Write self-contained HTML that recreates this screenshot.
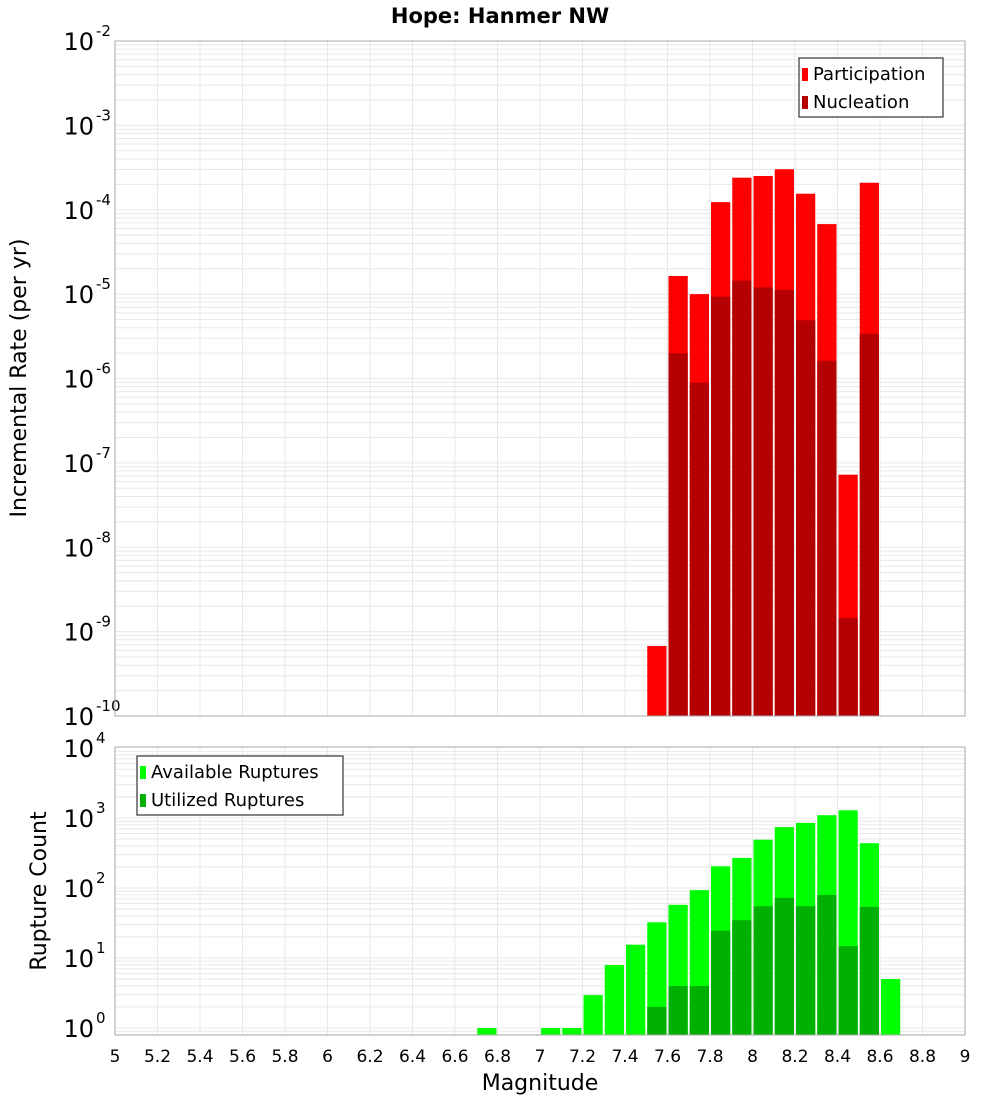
<!DOCTYPE html>
<html><head><meta charset="utf-8"><style>
body{margin:0;background:#fff;}
svg{display:block;font-family:"DejaVu Sans","Liberation Sans",sans-serif;}
</style></head><body>
<svg id="c" width="1000" height="1100" xmlns="http://www.w3.org/2000/svg">
<text x="500" y="23" text-anchor="middle" font-size="21" font-weight="bold">Hope: Hanmer NW</text>
<g id="top"></g>
<g id="bot"></g>
</svg>
<script>
const mags=[6.75,7.05,7.15,7.25,7.35,7.45,7.55,7.65,7.75,7.85,7.95,8.05,8.15,8.25,8.35,8.45,8.55,8.65];
const partMags=[7.55,7.65,7.75,7.85,7.95,8.05,8.15,8.25,8.35,8.45,8.55];
const participationLog=[-9.17,-4.785,-5.0,-3.91,-3.62,-3.6,-3.52,-3.81,-4.17,-7.14,-3.68];
const nuclMags=[7.65,7.75,7.85,7.95,8.05,8.15,8.25,8.35,8.45,8.55];
const nucleationLog=[-5.70,-6.05,-5.03,-4.84,-4.92,-4.95,-5.31,-5.79,-8.84,-5.47];
const availableLog=[0,0,0,0.47,0.9,1.19,1.51,1.76,1.97,2.31,2.43,2.69,2.87,2.93,3.04,3.11,2.64,0.70];
const utilMags=[7.55,7.65,7.75,7.85,7.95,8.05,8.15,8.25,8.35,8.45,8.55];
const utilizedLog=[0.30,0.6,0.6,1.39,1.54,1.74,1.86,1.74,1.9,1.17,1.73];
const xTicks=[5,5.2,5.4,5.6,5.8,6,6.2,6.4,6.6,6.8,7,7.2,7.4,7.6,7.8,8,8.2,8.4,8.6,8.8,9];
const topDecades=[-2,-3,-4,-5,-6,-7,-8,-9,-10];
const botDecades=[4,3,2,1,0];

const NS="http://www.w3.org/2000/svg";
const X0=115,X1=965;
const xs=m=>X0+(m-5)/4*(X1-X0);
function el(p,t,a){const e=document.createElementNS(NS,t);for(const k in a)e.setAttribute(k,a[k]);p.appendChild(e);return e;}

function panel(g,top,bottom,ys,yMinLog,yMaxLog,decades,name){
  // grid
  for(let d=Math.floor(yMinLog);d<yMaxLog;d++){
    for(let k=1;k<10;k++){
      const v=d+Math.log10(k);
      if(v<yMinLog||v>yMaxLog)continue;
      const l=el(g,'line',{x1:X0,x2:X1,y1:ys(v),y2:ys(v),stroke:'#e8e8e8','stroke-width':1});
      
      
    }
  }
  xTicks.forEach(t=>{
    const l=el(g,'line',{x1:xs(t),x2:xs(t),y1:top,y2:bottom,stroke:'#e8e8e8','stroke-width':1});
    
    
  });
  decades.forEach(d=>{
    const t=el(g,'text',{x:94,y:ys(d)+9,'text-anchor':'end','font-size':24});
    
    
    t.textContent='10';
    const s=el(g,'text',{x:96,y:ys(d)-5,'font-size':15});
    
    
    s.textContent=String(d);
  });
}
function bars(g,list,vals,ys,bottom,fill,name){
  list.forEach((m,i)=>{
    const x=xs(m-0.05)+1,w=xs(m+0.05)-xs(m-0.05)-2,y=ys(vals[i]);
    const r=el(g,'rect',{x:x,y:y,width:w,height:bottom-y,fill:fill});
    
    
  });
}
function frame(g,top,bottom,name){
  const r=el(g,'rect',{x:X0,y:top,width:X1-X0,height:bottom-top,fill:'none',stroke:'#aaa','stroke-width':1});
  
  
}
function legend(g,x,y,w,items,name){
  const b=el(g,'rect',{x:x,y:y,width:w,height:59,fill:'#fff',stroke:'#333','stroke-width':1.2});
  
  
  items.forEach((it,i)=>{
    const sw=el(g,'rect',{x:x+3,y:y+10+i*28,width:6,height:13,fill:it[1]});
    
    
    const t=el(g,'text',{x:x+14,y:y+22+i*28,'font-size':18});
    
    
    t.textContent=it[0];
  });
}

// top panel
const T=document.getElementById('top');
const tTop=41,tBot=716;
const yT=v=>tTop+(-2-v)*(tBot-tTop)/8;
panel(T,tTop,tBot,yT,-10,-2,topDecades,'rate');
bars(T,partMags,participationLog,yT,tBot,'#ff0000','participation-bar');
bars(T,nuclMags,nucleationLog,yT,tBot,'#b40000','nucleation-bar');
frame(T,tTop,tBot,'rate');
legend(T,799,58,144,[['Participation','#ff0000'],['Nucleation','#b40000']],'rate-legend');
const yt=el(T,'text',{x:0,y:0,'font-size':22,'text-anchor':'middle',transform:'translate(26,378) rotate(-90)'});


yt.textContent='Incremental Rate (per yr)';

// bottom panel
const B=document.getElementById('bot');
const bTop=747,bBot=1035;
const yB=v=>748+(4-v)*70;
panel(B,bTop,bBot,yB,-0.1,4,botDecades,'count');
bars(B,mags,availableLog,yB,bBot,'#00ff00','available-bar');
bars(B,utilMags,utilizedLog,yB,bBot,'#00b000','utilized-bar');
frame(B,bTop,bBot,'count');
legend(B,137,756,206,[['Available Ruptures','#00ff00'],['Utilized Ruptures','#00b000']],'count-legend');
const yb=el(B,'text',{x:0,y:0,'font-size':22,'text-anchor':'middle',transform:'translate(46,891) rotate(-90)'});


yb.textContent='Rupture Count';

xTicks.forEach(t=>{
  const tx=el(B,'text',{x:xs(t),y:1062,'text-anchor':'middle','font-size':17});
  
  
  tx.textContent=String(t);
});
const xt=el(B,'text',{x:540,y:1090,'text-anchor':'middle','font-size':22});


xt.textContent='Magnitude';
</script>
</body></html>
